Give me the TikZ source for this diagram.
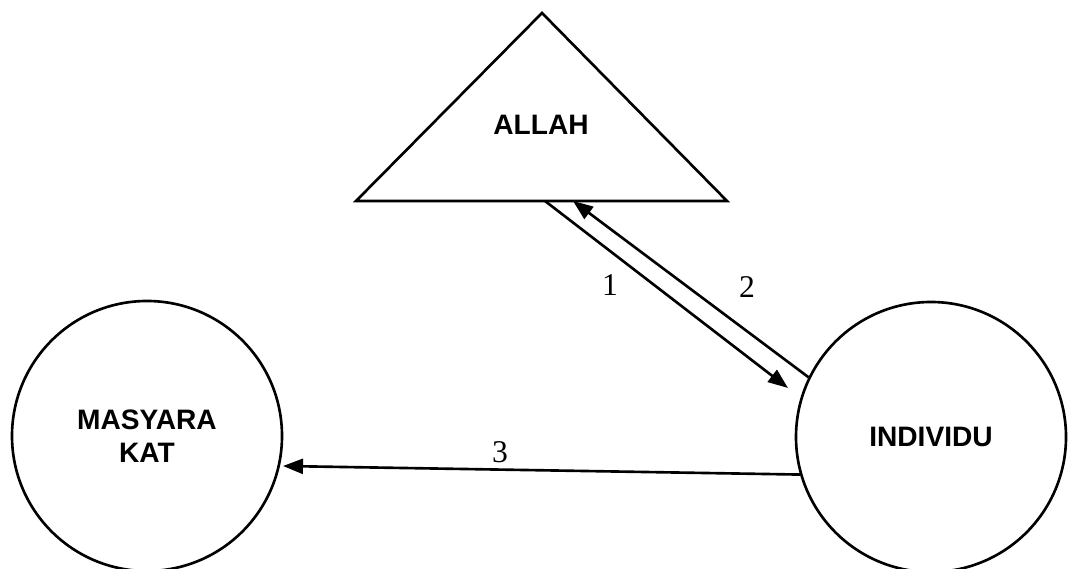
\documentclass[tikz,border=0pt]{standalone}
\usepackage{fontspec}
\setmainfont{Liberation Serif}
\newfontfamily\arialfont{Liberation Sans}
\usetikzlibrary{arrows.meta}

\begin{document}
\begin{tikzpicture}[
  line width=1.5pt,
  bulat/.style={draw, circle, minimum size=5.4cm, inner sep=0pt, align=center,
    font=\arialfont\bfseries\fontsize{16}{19}\selectfont},
  label/.style={font=\arialfont\bfseries\fontsize{16}{19}\selectfont},
  panah/.style={-{Triangle[length=4mm,width=3mm]}},
  angka/.style={font=\fontsize{18}{20}\selectfont}
]
\useasboundingbox (0,0) rectangle (21.4,11.38);

%TRIANGLE
\coordinate (puncak) at (10.84,11.12);
\coordinate (kiri) at (7.12,7.36);
\coordinate (kanan) at (14.54,7.36);
\draw (puncak)--(kiri)--(kanan)--cycle;
\node [label] (allah) at (10.82,8.88) {ALLAH};

%CIRCLES
\node [bulat] (masyarakat) at (2.94,2.66) {MASYARA\\KAT};
\node [bulat] (individu) at (18.62,2.64) {INDIVIDU};

%ARROWS
\coordinate (a1) at (10.9,7.36);
\coordinate (b1) at (15.76,3.62);
\coordinate (b2) at (11.46,7.36);
\coordinate (b3) at (5.66,2.06);

\draw [panah] (a1)--(b1);
\draw [panah] (individu.154)--(b2);
\draw [panah] (individu.196)--(b3);

\node [angka] (n1) at (12.2,5.68) {1};
\node [angka] (n2) at (14.94,5.64) {2};
\node [angka] (n3) at (10.0,2.34) {3};

\end{tikzpicture}
\end{document}
